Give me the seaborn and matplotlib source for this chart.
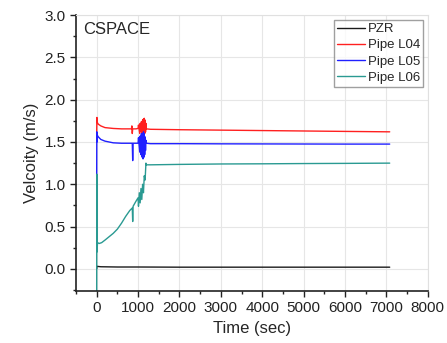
import seaborn as sns
from matplotlib import pyplot as plt
from matplotlib.ticker import MultipleLocator
import pandas as pd

# values
pzr_t = [0, 5, 100, 500, 1000, 2000, 4000, 6000, 7080]
pzr_v = [0.0, 0.03, 0.025, 0.022, 0.022, 0.02, 0.02, 0.02, 0.02]

l04_t = [0, 5, 15, 40, 100, 200, 400, 600, 840, 850, 860, 870, 950, 1000, 1010, 1040, 1050, 1070, 1080,
         1100, 1110, 1120, 1130, 1140, 1150, 1160, 1170, 1180, 1190, 1200, 1300, 2000, 3000, 4000, 5000, 6000, 7080]
l04_v = [1.6, 1.79, 1.73, 1.71, 1.69, 1.67, 1.66, 1.655, 1.655, 1.69, 1.6, 1.655, 1.655, 1.66, 1.70, 1.6, 1.72, 1.62, 1.74,
         1.58, 1.76, 1.6, 1.77, 1.62, 1.78, 1.6, 1.76, 1.62, 1.72, 1.655, 1.65, 1.645, 1.64, 1.635, 1.63, 1.625, 1.62]

l05_t = [0, 3, 8, 15, 40, 100, 200, 400, 600, 860, 870, 880, 1000, 1010, 1040, 1050, 1070, 1080, 1100,
         1110, 1120, 1130, 1140, 1150, 1160, 1170, 1180, 1190, 1200, 1300, 2000, 3000, 4000, 5000, 6000, 7080]
l05_v = [1.1, 1.62, 1.5, 1.58, 1.56, 1.53, 1.51, 1.49, 1.485, 1.485, 1.28, 1.485, 1.485, 1.55, 1.38, 1.57, 1.35, 1.6,
         1.32, 1.6, 1.3, 1.62, 1.32, 1.6, 1.35, 1.56, 1.4, 1.52, 1.485, 1.48, 1.48, 1.478, 1.477, 1.476, 1.475, 1.475]

l06_t = [0, 3, 8, 20, 60, 120, 200, 300, 400, 500, 600, 700, 800, 860, 870, 880, 950, 1000, 1010, 1030,
         1050, 1070, 1090, 1110, 1130, 1150, 1170, 1190, 1200, 1300, 2000, 3000, 4000, 5000, 6000, 7080]
l06_v = [-0.3, 1.12, 0.2, 0.31, 0.3, 0.31, 0.34, 0.38, 0.42, 0.47, 0.54, 0.62, 0.69, 0.72, 0.56, 0.74, 0.8, 0.84, 0.74, 0.9,
         0.78, 0.95, 0.82, 1.0, 0.9, 1.1, 1.05, 1.25, 1.23, 1.23, 1.235, 1.24, 1.242, 1.245, 1.247, 1.25]

names = ['PZR', 'Pipe L04', 'Pipe L05', 'Pipe L06']
colors = ['#1a1a1a', '#ff2020', '#2020ff', '#2a9a92']

rows = []
for name, t, v in zip(names, [pzr_t, l04_t, l05_t, l06_t], [pzr_v, l04_v, l05_v, l06_v]):
    for a, b in zip(t, v):
        rows.append((name, a, b))
df = pd.DataFrame(rows, columns=['series', 'time', 'vel'])

sns.set_style('whitegrid')
plt.rcParams['font.family'] = ['Liberation Sans', 'DejaVu Sans']

fig = plt.figure(figsize=(4.47, 3.43), dpi=100)
ax = fig.add_axes([0.170, 0.152, 0.787, 0.804])
sns.lineplot(data=df, x='time', y='vel', hue='series', palette=colors, hue_order=names,
             sort=False, estimator=None, linewidth=1.0, ax=ax)

ax.set_xlim(-500, 8000)
ax.set_ylim(-0.26, 3.0)
ax.xaxis.set_major_locator(MultipleLocator(1000))
ax.xaxis.set_minor_locator(MultipleLocator(500))
ax.yaxis.set_major_locator(MultipleLocator(0.5))
ax.yaxis.set_minor_locator(MultipleLocator(0.25))
ax.yaxis.set_major_formatter(plt.FormatStrFormatter('%.1f'))
ax.grid(True, which='major', color='#e6e6e6', linewidth=0.8)
ax.grid(False, which='minor')
ax.tick_params(which='major', direction='out', length=4, width=1, colors='#222222', labelsize=11,
               left=True, bottom=True)
ax.tick_params(which='minor', direction='out', length=2.5, width=1, colors='#222222', left=True, bottom=True)
for s in ['left', 'bottom']:
    ax.spines[s].set_color('#222222')
    ax.spines[s].set_linewidth(1.2)
for s in ['top', 'right']:
    ax.spines[s].set_color('#e0e0e0')

ax.set_xlabel('Time (sec)', fontsize=12, labelpad=4)
ax.set_ylabel('Velcoity (m/s)', fontsize=12, labelpad=4)
ax.text(0.02, 0.975, 'CSPACE', transform=ax.transAxes, fontsize=12, va='top', ha='left')

leg = ax.legend(loc='upper right', fontsize=9.5, frameon=True, fancybox=False, handlelength=2.1,
                handletextpad=0.2, borderpad=0.25, labelspacing=0.3, borderaxespad=0.35)
leg.get_frame().set_edgecolor('#888888')
leg.get_frame().set_linewidth(1.0)

fig.savefig('out.png', dpi=100)
